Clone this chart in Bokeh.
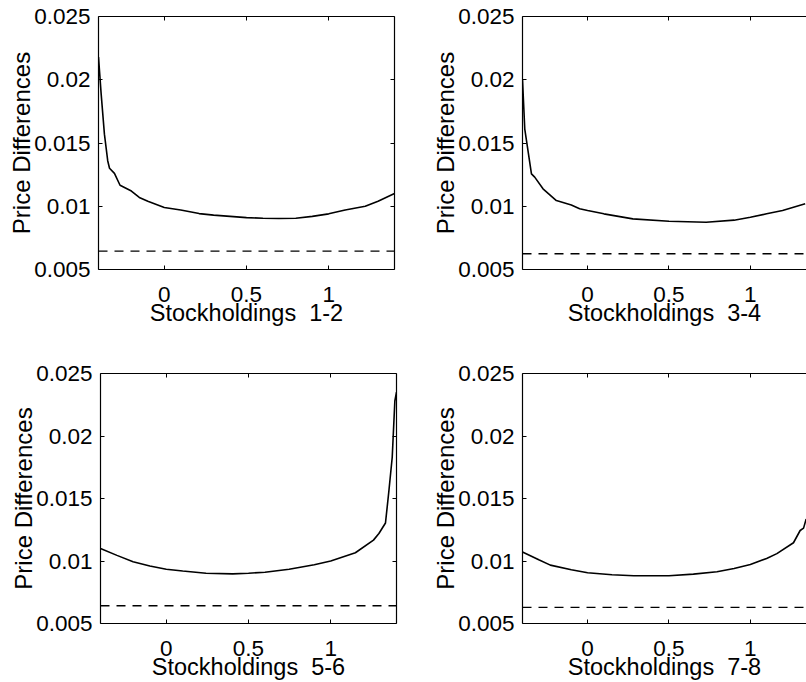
from bokeh.plotting import figure
from bokeh.layouts import column, row
from bokeh.models import Range1d, LinearAxis, FixedTicker, Span
from bokeh.embed import file_html
from bokeh.resources import INLINE

# ---------------- data ----------------
x_12 = [-0.4, -0.384, -0.364, -0.344, -0.333, -0.303, -0.269, -0.2, -0.152, -0.1, 0.0,
        0.1, 0.212, 0.3, 0.4, 0.5, 0.6, 0.697, 0.8, 0.9, 1.0, 1.1, 1.222, 1.3, 1.4]
y_12 = [0.0218, 0.0189, 0.0157, 0.0136, 0.0130, 0.0126, 0.01166, 0.0112, 0.0107, 0.0104, 0.0099,
        0.0097, 0.00942, 0.0093, 0.0092, 0.0091, 0.00905, 0.00903, 0.00905, 0.0092, 0.0094,
        0.0097, 0.0100, 0.0104, 0.0110]

x_34 = [-0.4, -0.386, -0.345, -0.325, -0.274, -0.192, -0.1, -0.049, 0.0, 0.1, 0.278,
        0.5, 0.728, 0.9, 1.0, 1.1, 1.198, 1.337]
y_34 = [0.0200, 0.0161, 0.01256, 0.0123, 0.01138, 0.01045, 0.0101, 0.0098, 0.00966, 0.0094, 0.0090,
        0.00882, 0.00874, 0.0089, 0.00913, 0.0094, 0.00966, 0.0102]

x_56 = [-0.4, -0.3, -0.202, -0.1, 0.0, 0.1, 0.242, 0.404, 0.5, 0.6, 0.747, 0.9, 1.0,
        1.15, 1.26, 1.293, 1.333, 1.354, 1.374, 1.39, 1.4]
y_56 = [0.0110, 0.01045, 0.00994, 0.0096, 0.00934, 0.0092, 0.00902, 0.00897, 0.00902, 0.0091,
        0.00934, 0.0097, 0.0100, 0.01066, 0.01167, 0.0122, 0.01304, 0.01564, 0.0183, 0.0228, 0.0235]

x_78 = [-0.4, -0.3, -0.229, -0.1, 0.0, 0.15, 0.284, 0.5, 0.65, 0.795, 0.9, 1.0, 1.1,
        1.163, 1.265, 1.306, 1.327, 1.343]
y_78 = [0.01072, 0.0101, 0.00967, 0.0093, 0.00906, 0.0089, 0.00882, 0.00882, 0.00895, 0.00914,
        0.0094, 0.00972, 0.0102, 0.01059, 0.01146, 0.01244, 0.01263, 0.01336]

dash_12 = 0.00645
dash_34 = 0.00624
dash_56 = 0.00642
dash_78 = 0.00629

pair_labels = ["1-2", "3-4", "5-6", "7-8"]
x_title = "Stockholdings"
y_title = "Price Differences"

x_ticks = [0, 0.5, 1]
x_tick_labels = ["0", "0.5", "1"]
y_ticks = [0.005, 0.01, 0.015, 0.02, 0.025]
y_tick_labels = ["0.005", "0.01", "0.015", "0.02", "0.025"]

# ---------------- styling ----------------
FONT = "Liberation Sans"
TICK_SIZE = "22.5px"
XLABEL_SIZE = "23.5px"
YLABEL_SIZE = "24px"
GAP = "\u00a0\u00a0"


def border_axis(ticks):
    return LinearAxis(ticker=FixedTicker(ticks=ticks), major_label_text_font_size="1px",
                      major_label_text_color=None, major_label_standoff=0,
                      major_tick_in=4, major_tick_out=0, minor_tick_line_color=None,
                      axis_line_color="black", axis_line_width=1.2,
                      major_tick_line_color="black")


def make_panel(xs, ys, dash, pair, width, height, bl, br, bt, bb, x_end, right_border):
    p = figure(width=width, height=height, output_backend="svg", toolbar_location=None,
               x_range=Range1d(-0.4, x_end), y_range=Range1d(0.005, 0.025),
               min_border_left=bl, min_border_right=br, min_border_top=bt, min_border_bottom=bb,
               background_fill_color="white", border_fill_color="white")
    p.outline_line_color = None
    p.xgrid.visible = False
    p.ygrid.visible = False

    xa = p.xaxis[0]
    xa.ticker = FixedTicker(ticks=x_ticks)
    xa.major_label_overrides = dict(zip(x_ticks, x_tick_labels))
    xa.axis_label = x_title + GAP + pair
    xa.axis_label_text_font_size = XLABEL_SIZE
    xa.axis_label_standoff = -5
    xa.major_label_standoff = 17

    ya = p.yaxis[0]
    ya.ticker = FixedTicker(ticks=y_ticks)
    ya.major_label_overrides = dict(zip(y_ticks, y_tick_labels))
    ya.axis_label = y_title
    ya.axis_label_text_font_size = YLABEL_SIZE
    ya.axis_label_standoff = -4
    ya.major_label_standoff = 8

    for ax in (xa, ya):
        ax.axis_label_text_font = FONT
        ax.axis_label_text_font_style = "normal"
        ax.axis_label_text_color = "black"
        ax.major_label_text_font = FONT
        ax.major_label_text_font_size = TICK_SIZE
        ax.major_label_text_color = "black"
        ax.major_tick_in = 4
        ax.major_tick_out = 0
        ax.minor_tick_line_color = None
        ax.axis_line_color = "black"
        ax.axis_line_width = 1.2
        ax.major_tick_line_color = "black"

    p.add_layout(border_axis(x_ticks), "above")
    if right_border:
        p.add_layout(border_axis(y_ticks), "right")

    p.line(xs, ys, line_color="black", line_width=1.6)
    p.add_layout(Span(location=dash, dimension="width", line_color="black",
                      line_width=1.4, line_dash="9 7"))
    return p


p1 = make_panel(x_12, y_12, dash_12, pair_labels[0], 429, 340, 98, 35, 16, 71, 1.4, True)
p2 = make_panel(x_34, y_34, dash_34, pair_labels[1], 377, 340, 92, 0, 16, 71, 1.345, False)
p3 = make_panel(x_56, y_56, dash_56, pair_labels[2], 429, 342, 100, 33, 32, 58, 1.4, True)
p4 = make_panel(x_78, y_78, dash_78, pair_labels[3], 377, 342, 92, 0, 33, 57, 1.345, False)

layout = column(row(p1, p2), row(p3, p4))
open("out.html", "w").write(file_html(layout, INLINE))
